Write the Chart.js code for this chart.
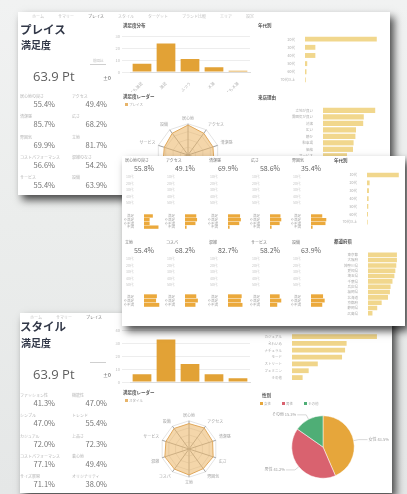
<!DOCTYPE html>
<html><head><meta charset="utf-8">
<script src="https://cdn.jsdelivr.net/npm/chart.js@4.4.0/dist/chart.umd.min.js"></script>
<style>
html,body{margin:0;padding:0;}
body{width:407px;height:494px;overflow:hidden;background:linear-gradient(180deg,#f1f2f2 0%,#ebedec 45%,#e5e7e7 100%);font-family:'Noto Sans CJK JP','Noto Sans',sans-serif;}
#root{position:relative;width:407px;height:494px;filter:blur(0.4px);}
.panel{position:absolute;background:#fff;box-shadow:4px 5px 8px rgba(0,0,0,0.7);overflow:hidden;}
.t{position:absolute;white-space:nowrap;line-height:1;}
canvas{position:absolute;}
</style></head><body><div id="root">
<div class="panel" id="p1" style="left:18px;top:12px;width:372px;height:183px;"></div>
<div class="panel" id="p3" style="left:20px;top:313px;width:372px;height:180px;"></div>
<div class="panel" id="p2" style="left:122px;top:156px;width:283px;height:170px;"></div>
</div>
<script>
// ---------- data ----------
const tabLabels = ['ホーム','サマリー','プレイス','スタイル','ターゲット','ブランド比較','エリア','設定'];
const placeTitle = 'プレイス';
const styleTitle = 'スタイル';
const satisfactionTitle = '満足度';
const placeScore = '63.9 Pt';
const styleScore = '63.9 Pt';
const placeKpiLabels = ['居心地の良さ','アクセス','清潔感','広さ','雰囲気','立地','コストパフォーマンス','混雑のなさ','サービス','設備'];
const placeKpiValues = ['55.4%','49.4%','85.7%','68.2%','69.9%','81.7%','56.6%','54.2%','55.4%','63.9%'];
const styleKpiLabels = ['ファッション性','機能性','シンプル','トレンド','カジュアル','上品さ','コストパフォーマンス','着心地','サイズ展開','オリジナリティ'];
const styleKpiValues = ['41.3%','47.0%','47.0%','55.4%','72.0%','72.3%','77.1%','49.4%','71.1%','38.0%'];
const distLabels = ['とても満足','満足','ふつう','不満','とても不満'];
const placeDistValues = [7, 24, 11, 4, 1];
const styleDistValues = [6, 33, 14, 6, 3];
const radarLabels = ['居心地','アクセス','清潔感','広さ','雰囲気','立地','コスパ','混雑','サービス','設備'];
const placeRadarValues = [96, 86, 84, 88, 80, 78, 82, 84, 80, 86];
const styleRadarValues = [90, 92, 88, 90, 86, 92, 88, 90, 86, 90];
const ageLabels = ['20代','30代','40代','50代','60代','70代以上'];
const placeAgeValues = [97, 14, 14, 3, 2, 1];
const reasonLabels = ['立地が良い','雰囲気が良い','清潔','広い','静か','駐車場','価格','サービス','設備','口コミ','紹介','その他'];
const placeReasonValues = [87, 68, 67, 55, 54, 51, 50, 40, 36, 30, 25, 20];
const detailTitles = ['居心地の良さ','アクセス','清潔感','広さ','雰囲気','立地','コスパ','混雑','サービス','設備'];
const detailValues = ['55.8%','49.1%','69.9%','58.6%','35.4%','55.4%','68.2%','82.7%','58.2%','63.9%'];
const detailListLabels = ['10代','20代','30代','40代','50代'];
const detailBarLabels = ['満足','やや満足','やや不満','不満'];
const detailBarsRow1 = [[55, 35, 35, 90], [70, 75, 65, 10], [75, 80, 70, 10], [65, 70, 60, 10], [70, 95, 90, 10]];
const detailBarsRow2 = [[80, 75, 95], [70, 80, 65], [85, 80, 90], [60, 70, 45], [75, 85, 70]];
const areaAgeLabels = ['10代','20代','30代','40代','50代','60代','70代以上'];
const areaAgeValues = [97, 8, 6, 5, 4, 3, 2];
const prefLabels = ['東京都','大阪府','神奈川県','愛知県','埼玉県','千葉県','兵庫県','福岡県','北海道','京都府','静岡県','広島県'];
const prefValues = [91, 91, 89, 86, 83, 77, 71, 69, 63, 43, 29, 14];
const styleTypeLabels = ['カジュアル','きれいめ','ナチュラル','モード','ストリート','フェミニン','その他'];
const styleTypeValues = [56, 36, 35, 33, 17, 11, 7];
const genderLabels = ['女性','男性','その他'];
const genderValues = [43.5, 41.2, 15.3];

// ---------- setup ----------
Chart.defaults.font.family = "'Noto Sans CJK JP','Noto Sans',sans-serif";
Chart.defaults.font.size = 4;
Chart.defaults.color = '#aaa';
Chart.defaults.animation = false;
Chart.defaults.responsive = false;
Chart.defaults.maintainAspectRatio = false;
Chart.defaults.plugins.legend.display = false;
Chart.defaults.plugins.tooltip.enabled = false;

const P1 = document.getElementById('p1');
const P2 = document.getElementById('p2');
const P3 = document.getElementById('p3');

function txt(p, x, y, s, css) {
  const d = document.createElement('div');
  d.className = 't';
  d.style.cssText = 'left:' + x + 'px;top:' + y + 'px;' + (css || '');
  d.textContent = s;
  p.appendChild(d);
  return d;
}
function box(p, x, y, w, h, color) {
  const d = document.createElement('div');
  d.style.cssText = 'position:absolute;left:' + x + 'px;top:' + y + 'px;width:' + w + 'px;height:' + h + 'px;background:' + color + ';';
  p.appendChild(d);
}
function cv(p, x, y, w, h) {
  const c = document.createElement('canvas');
  c.width = w; c.height = h;
  c.style.left = x + 'px'; c.style.top = y + 'px';
  c.style.width = w + 'px'; c.style.height = h + 'px';
  p.appendChild(c);
  return c;
}
function tabs(p, x, y, n) {
  let cx = x;
  tabLabels.slice(0, n).forEach((l, i) => {
    txt(p, cx, y, l, 'font-size:4px;color:' + (i === 2 ? '#777' : '#c2c2c2') + ';');
    cx += l.length * 4 + 14;
  });
}
function kpis(p, labels, values, xOff, labelTop, valueTop) {
  for (let i = 0; i < 10; i++) {
    const col = i % 2, row = Math.floor(i / 2);
    txt(p, xOff + 2 + col * 52, labelTop + row * 20.3, labels[i], 'font-size:4px;color:#b5b5b5;');
    txt(p, xOff + col * 52, valueTop + row * 20.3, values[i], 'font-size:7.5px;color:#747474;width:37px;text-align:right;');
  }
}
function vbar(c, labels, values, max, step, rot, xh) {
  return new Chart(c, {
    type: 'bar',
    data: { labels: labels, datasets: [{ data: values, backgroundColor: '#e2a236', barPercentage: 0.78, categoryPercentage: 1 }] },
    options: {
      layout: { padding: { top: 2, right: 2 } },
      scales: {
        x: { grid: { display: false }, border: { color: '#dcdcdc' },
             ticks: { font: { size: 4 }, color: '#b5b5b5', padding: 1, autoSkip: false, maxRotation: rot, minRotation: rot },
             afterFit: s => { s.height = xh; } },
        y: { min: 0, max: max, ticks: { stepSize: step, font: { size: 4 }, color: '#bbb', padding: 2 },
             grid: { color: '#ededed' }, border: { display: false },
             afterFit: s => { s.width = 15; } }
      }
    }
  });
}
function hbar(c, labels, values, color, max, step, yw, xh, padR, bp) {
  return new Chart(c, {
    type: 'bar',
    data: { labels: labels, datasets: [{ data: values, backgroundColor: color, barPercentage: bp, categoryPercentage: 1 }] },
    options: {
      indexAxis: 'y',
      layout: { padding: { right: padR, top: 0 } },
      scales: {
        x: { min: 0, max: max, ticks: { stepSize: step, font: { size: 3.5 }, color: '#bbb', padding: 1 },
             grid: { display: false }, border: { display: false },
             afterFit: s => { s.height = xh; } },
        y: { grid: { display: false }, border: { display: false },
             ticks: { font: { size: 3.5 }, color: '#aaa', padding: 2, autoSkip: false },
             afterFit: s => { s.width = yw; } }
      }
    }
  });
}
function radar(c, values, pad) {
  return new Chart(c, {
    type: 'radar',
    data: { labels: radarLabels, datasets: [{ data: values, backgroundColor: 'rgba(236,184,108,0.58)', borderColor: '#e0a85c', borderWidth: 1, pointRadius: 0 }] },
    options: {
      layout: { padding: pad },
      scales: { r: { min: 0, max: 100, ticks: { display: false, stepSize: 25 },
        grid: { color: '#e4e4e4' }, angleLines: { color: '#a0a0a0' },
        pointLabels: { font: { size: 4 }, color: '#a5a5a5', padding: 3 } } }
    }
  });
}
const pieLabelPlugin = {
  id: 'pieLabels',
  afterDatasetsDraw(chart) {
    const ctx = chart.ctx;
    const meta = chart.getDatasetMeta(0);
    ctx.save();
    ctx.font = "4px 'Noto Sans CJK JP'";
    ctx.strokeStyle = '#bdbdbd';
    ctx.fillStyle = '#9a9a9a';
    ctx.lineWidth = 0.6;
    meta.data.forEach((arc, i) => {
      const a = (arc.startAngle + arc.endAngle) / 2;
      const r = arc.outerRadius;
      const x0 = arc.x + Math.cos(a) * r, y0 = arc.y + Math.sin(a) * r;
      const x1 = arc.x + Math.cos(a) * (r + 5), y1 = arc.y + Math.sin(a) * (r + 5);
      const right = Math.cos(a) >= 0;
      const x2 = x1 + (right ? 9 : -9);
      ctx.beginPath(); ctx.moveTo(x0, y0); ctx.lineTo(x1, y1); ctx.lineTo(x2, y1); ctx.stroke();
      ctx.textAlign = right ? 'left' : 'right';
      ctx.textBaseline = 'middle';
      ctx.fillText(chart.data.labels[i] + ' ' + chart.data.datasets[0].data[i] + '%', x2 + (right ? 1 : -1), y1);
    });
    ctx.restore();
  }
};
function legendItem(p, x, y, color, label) {
  box(p, x, y, 3, 3, color);
  txt(p, x + 4, y - 0.5, label, 'font-size:3.5px;color:#aaa;');
}

// ---------- panel 1 : プレイス ----------
tabs(P1, 14, 2, 8);
txt(P1, 2, 12, placeTitle, 'font-size:11.5px;font-weight:bold;color:#323848;');
txt(P1, 3, 28, satisfactionTitle, 'font-size:10px;font-weight:bold;color:#323848;');
txt(P1, 15, 58, placeScore, "font-size:13px;color:#5e5e5e;font-family:'Open Sans','Noto Sans',sans-serif;");
box(P1, 72, 52, 16, 0.7, '#cfcfcf');
txt(P1, 75, 47, '前回比', 'font-size:3.5px;color:#bbb;');
txt(P1, 85, 63, '±0', 'font-size:5px;color:#444;');
kpis(P1, placeKpiLabels, placeKpiValues, 0, 82, 88);

txt(P1, 105, 11, '満足度分布', 'font-size:4.5px;font-weight:bold;color:#555;');
vbar(cv(P1, 97, 20, 137, 60), distLabels, placeDistValues, 30, 10, 45, 20);
txt(P1, 105, 82, '満足度レーダー', 'font-size:4.5px;font-weight:bold;color:#555;');
legendItem(P1, 107, 91, '#e7b46a', 'プレイス');
radar(cv(P1, 110, 101, 120, 84), placeRadarValues, 3);

txt(P1, 240, 11, '年代別', 'font-size:4.5px;font-weight:bold;color:#555;');
hbar(cv(P1, 240, 19, 130, 61), ageLabels, placeAgeValues, '#f1d78d', 100, 25, 47, 8, 9, 0.6);
txt(P1, 240, 83, '来店理由', 'font-size:4.5px;font-weight:bold;color:#555;');
hbar(cv(P1, 240, 91, 130, 90), reasonLabels, placeReasonValues, '#f1d78d', 100, 25, 65, 8, 5, 0.8);

// ---------- panel 2 : details ----------
const colX = [2, 43, 86, 128, 169];
for (let i = 0; i < 10; i++) {
  const row = i < 5 ? 0 : 1;
  const x = colX[i % 5];
  const ry = row * 82;
  txt(P2, x + 1, ry + 2, detailTitles[i], 'font-size:4px;color:#777;');
  txt(P2, x, ry + 8.5, detailValues[i], 'font-size:7px;color:#666;width:40px;text-align:center;');
  detailListLabels.forEach((l, k) => txt(P2, x + 2, ry + 19 + k * 6.5, l, 'font-size:3.5px;color:#c6c6c6;'));
  if (row === 0) {
    hbar(cv(P2, x, 54, 40, 25), detailBarLabels, detailBarsRow1[i % 5], '#eba93c', 100, 50, 20, 6, 3, 0.9);
  } else {
    hbar(cv(P2, x, 134, 40, 23), detailBarLabels.slice(0, 3), detailBarsRow2[i % 5], '#eba93c', 100, 50, 20, 6, 3, 0.9);
  }
}
txt(P2, 212, 2, '年代別', 'font-size:4.5px;font-weight:bold;color:#555;');
hbar(cv(P2, 212, 11, 70, 67), areaAgeLabels, areaAgeValues, '#f1d78d', 100, 25, 33, 8, 3, 0.6);
txt(P2, 212, 83, '都道府県', 'font-size:4.5px;font-weight:bold;color:#555;');
hbar(cv(P2, 212, 92, 70, 74), prefLabels, prefValues, '#f1d78d', 100, 25, 34, 6, 2, 0.85);

// ---------- panel 3 : スタイル ----------
tabs(P3, 10, 2, 3);
txt(P3, 0, 8, styleTitle, 'font-size:11.5px;font-weight:bold;color:#323848;');
txt(P3, 1, 25, satisfactionTitle, 'font-size:10px;font-weight:bold;color:#323848;');
txt(P3, 13, 54.5, styleScore, "font-size:13px;color:#5e5e5e;font-family:'Open Sans','Noto Sans',sans-serif;");
box(P3, 70, 49, 16, 0.7, '#cfcfcf');
txt(P3, 83, 59, '±0', 'font-size:5px;color:#444;');
kpis(P3, styleKpiLabels, styleKpiValues, -2, 80, 86);

vbar(cv(P3, 95, 13, 137, 64), distLabels, styleDistValues, 40, 10, 0, 8);
txt(P3, 103, 77, '満足度レーダー', 'font-size:4.5px;font-weight:bold;color:#555;');
legendItem(P3, 105, 86, '#e7b46a', 'スタイル');
radar(cv(P3, 113, 95, 110, 82), styleRadarValues, 5);

hbar(cv(P3, 235, 16, 135, 60), styleTypeLabels, styleTypeValues, '#f0d58a', 60, 10, 37, 8, 7, 0.7);
txt(P3, 242, 80, '性別', 'font-size:4.5px;font-weight:bold;color:#555;');
legendItem(P3, 240, 89, '#e6a63b', genderLabels[0]);
legendItem(P3, 262, 89, '#d9626f', genderLabels[1]);
legendItem(P3, 284, 89, '#4fae76', genderLabels[2]);
new Chart(cv(P3, 233, 99, 140, 70), {
  type: 'pie',
  data: { labels: genderLabels, datasets: [{ data: genderValues, backgroundColor: ['#e6a63b', '#d9626f', '#4fae76'], borderColor: '#fff', borderWidth: 0.5 }] },
  options: { layout: { padding: 3.5 } },
  plugins: [pieLabelPlugin]
});
</script></body></html>
